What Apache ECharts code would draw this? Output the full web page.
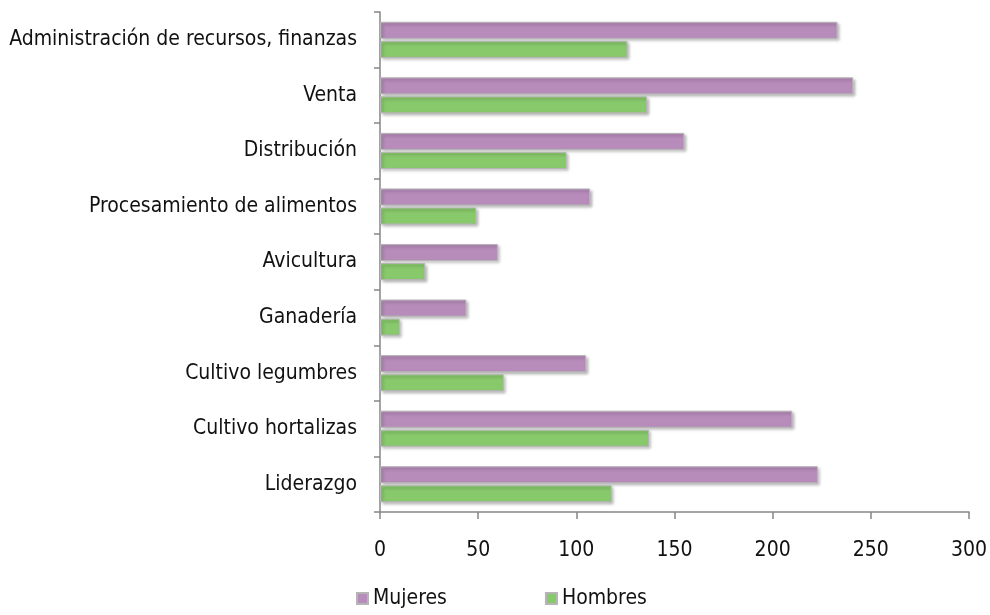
<!DOCTYPE html>
<html>
<head>
<meta charset="utf-8">
<script src="https://cdn.jsdelivr.net/npm/echarts@6/dist/echarts.min.js"></script>
<style>
    html, body { margin: 0; padding: 0; background: #fff; }
    #chart { width: 990px; height: 615px; }
</style>
</head>
<body>
<div id="chart"></div>
<script>
// categorias de abajo hacia arriba (el eje y de ECharts empieza abajo)
var categories = [
    'Liderazgo',
    'Cultivo hortalizas',
    'Cultivo legumbres',
    'Ganadería',
    'Avicultura',
    'Procesamiento de alimentos',
    'Distribución',
    'Venta',
    'Administración de recursos, finanzas'
];
var mujeres = [223, 210, 105, 44, 60, 107, 155, 241, 233];
var hombres = [118, 137, 63, 10, 23, 49, 95, 136, 126];
var xTicks = [0, 50, 100, 150, 200, 250, 300];

var labelFont = '"Liberation Sans Narrow", "DejaVu Sans Condensed", sans-serif';
var axisGrey = '#868686';

function barStyle(color) {
    return {
        color: color,
        borderColor: '#b5b5b5',
        borderWidth: 1,
        shadowColor: 'rgba(0,0,0,0.3)',
        shadowBlur: 3,
        shadowOffsetX: 2,
        shadowOffsetY: 2
    };
}

var chart = echarts.init(document.getElementById('chart'));

var option = {
    animation: false,
    grid: {
        left: 380,
        right: 19,
        top: 12,
        bottom: 103
    },
    legend: {
        data: ['Mujeres', 'Hombres'],
        left: 351,
        bottom: 1,
        icon: 'rect',
        itemWidth: 11,
        itemHeight: 11,
        itemGap: 98,
        textStyle: {
            fontFamily: labelFont,
            fontSize: 21,
            color: '#111'
        }
    },
    xAxis: {
        type: 'value',
        min: xTicks[0],
        max: xTicks[xTicks.length - 1],
        interval: 50,
        splitLine: { show: false },
        axisLine: { show: true, lineStyle: { color: axisGrey, width: 1.5 } },
        axisTick: { show: true, length: 7, lineStyle: { color: axisGrey, width: 1.5 } },
        axisLabel: {
            margin: 28,
            fontFamily: labelFont,
            fontSize: 21,
            color: '#111'
        }
    },
    yAxis: {
        type: 'category',
        data: categories,
        axisLine: { show: true, lineStyle: { color: axisGrey, width: 1.5 } },
        axisTick: { show: true, length: 6, lineStyle: { color: axisGrey, width: 1.5 } },
        axisLabel: {
            margin: 23,
            fontFamily: labelFont,
            fontSize: 21,
            color: '#111'
        }
    },
    series: [
        {
            name: 'Mujeres',
            type: 'bar',
            data: mujeres,
            barWidth: 17,
            barGap: '12%',
            itemStyle: barStyle('#b78bba')
        },
        {
            name: 'Hombres',
            type: 'bar',
            data: hombres,
            barWidth: 17,
            barGap: '12%',
            itemStyle: barStyle('#88c96b')
        }
    ]
};

chart.setOption(option);
</script>
</body>
</html>
